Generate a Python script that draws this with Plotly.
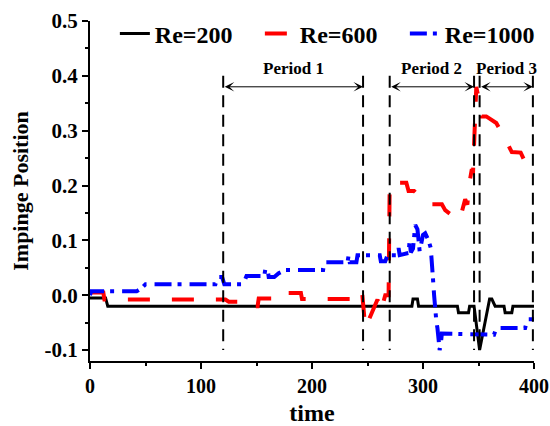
import plotly.graph_objects as go

# ---- data ----
time_re200 = [0, 14, 16, 290, 291, 295, 296, 331, 332, 341, 342, 346, 351, 360, 362, 365, 373, 374, 380, 381, 400]
pos_re200 = [-0.005, -0.005, -0.02, -0.02, -0.007, -0.007, -0.02, -0.02, -0.032, -0.032, -0.02, -0.02, -0.1,
             -0.007, -0.007, -0.02, -0.02, -0.032, -0.032, -0.02, -0.02]

time_re600 = [0, 12, 13, 122, 125, 139, 140, 151, 152, 177, 178, 190, 191, 235, 238, 245, 248, 254, 259, 262,
              266, 269, 270, 285, 287, 292, 304, 317, 320, 332, 333, 338, 340, 341, 344, 345, 346, 347, 348, 350,
              353, 357, 366, 373, 376, 380, 388, 391, 396, 400]
pos_re600 = [0.005, 0.005, -0.008, -0.008, -0.012, -0.012, -0.02, -0.02, -0.006, -0.006, 0.004, 0.004, -0.007,
             -0.007, 0.008, 0.008, -0.06, -0.03, -0.008, -0.03, 0.0, 0.0, 0.205, 0.205, 0.19, 0.19, 0.166, 0.166,
             0.155, 0.137, 0.137, 0.175, 0.165, 0.195, 0.23, 0.22, 0.27, 0.31, 0.38, 0.36, 0.326, 0.326, 0.314,
             0.289, 0.278, 0.261, 0.26, 0.247, 0.232, 0.232]

time_re1000 = [0, 1, 42, 46, 50, 113, 115, 119, 121, 138, 141, 157, 158, 160, 161, 166, 170, 176, 210, 211,
               232, 233, 234, 240, 241, 261, 262, 266, 268, 277, 278, 279, 287, 288, 289, 291, 293, 295, 297, 300,
               302, 305, 307, 308, 309, 310, 311, 312, 313, 315, 316, 317, 364, 366, 392, 394, 400]
pos_re1000 = [0.0, 0.007, 0.007, 0.012, 0.02, 0.02, 0.033, 0.033, 0.02, 0.02, 0.035, 0.035, 0.048, 0.048, 0.033,
              0.033, 0.04, 0.046, 0.046, 0.06, 0.06, 0.073, 0.06, 0.06, 0.073, 0.073, 0.062, 0.062, 0.073, 0.073,
              0.086, 0.073, 0.077, 0.1, 0.078, 0.085, 0.128, 0.12, 0.08, 0.11, 0.113, 0.1, 0.086, 0.064, 0.03, 0.0,
              -0.03, -0.047, -0.06, -0.1, -0.09, -0.07, -0.072, -0.06, -0.06, -0.044, -0.044]

series_names = ["Re=200", "Re=600", "Re=1000"]

period_labels = ["Period 1", "Period 2", "Period 3"]
period_starts = [120, 270, 351]
period_ends = [246, 346, 399]

x_ticks = [0, 100, 200, 300, 400]
y_ticks = [-0.1, 0.0, 0.1, 0.2, 0.3, 0.4, 0.5]
y_tick_labels = ["-0.1", "0.0", "0.1", "0.2", "0.3", "0.4", "0.5"]

FONT = "Liberation Serif"

fig = go.Figure()
fig.add_trace(go.Scatter(x=time_re200, y=pos_re200, mode="lines", name=series_names[0],
                         line=dict(color="black", width=3)))
fig.add_trace(go.Scatter(x=time_re600, y=pos_re600, mode="lines", name=series_names[1],
                         line=dict(color="#ff0000", width=4, dash="22px,22px")))
fig.add_trace(go.Scatter(x=time_re1000, y=pos_re1000, mode="lines", name=series_names[2],
                         line=dict(color="#0000ff", width=4, dash="17px,6px,4px,8px")))

# vertical dashed period boundaries
for xb in period_starts + period_ends:
    fig.add_shape(type="line", x0=xb, x1=xb, y0=0.4, y1=-0.1, xref="x", yref="y",
                  line=dict(color="black", width=2, dash="12px,7.5px"), layer="above")

# double-headed arrows + labels
for lab, s, e in zip(period_labels, period_starts, period_ends):
    fig.add_annotation(x=e, y=0.38, ax=s, ay=0.38, xref="x", yref="y", axref="x", ayref="y",
                       text="", showarrow=True, arrowhead=3, startarrowhead=3, arrowside="end+start",
                       arrowsize=1.6, startarrowsize=1.6, arrowwidth=1, arrowcolor="black",
                       standoff=0, startstandoff=0)
    fig.add_annotation(x=(s + e) / 2, y=0.413, xref="x", yref="y", text=lab, showarrow=False,
                       font=dict(family=FONT, size=17, color="black", weight="bold"))

fig.update_layout(
    width=550, height=426,
    margin=dict(l=90, r=16, t=21, b=65, autoexpand=False),
    plot_bgcolor="white", paper_bgcolor="white",
    font=dict(family=FONT, size=20, color="black", weight="bold"),
    showlegend=True,
    legend=dict(orientation="h", x=0.056, y=0.962, xanchor="left", yanchor="middle",
                font=dict(family=FONT, size=24, color="black", weight="bold"),
                bgcolor="rgba(0,0,0,0)", itemwidth=30, entrywidth=100, tracegroupgap=0),
)
fig.update_xaxes(range=[0, 400], tickvals=x_ticks, showgrid=False, zeroline=False, automargin=False,
                 showline=True, linecolor="black", linewidth=2,
                 ticks="outside", ticklen=6, tickwidth=2, tickcolor="black",
                 minor=dict(ticks="outside", ticklen=3, tickwidth=2, tickcolor="black", dtick=50),
                 tickfont=dict(family=FONT, size=20, weight="bold"),
                 title=dict(text="time", font=dict(family=FONT, size=24, weight="bold"), standoff=10))
fig.update_yaxes(range=[-0.12, 0.5], tickvals=y_ticks, ticktext=y_tick_labels, showgrid=False, zeroline=False,
                 automargin=False,
                 showline=True, linecolor="black", linewidth=2,
                 ticks="outside", ticklen=6, tickwidth=2, tickcolor="black",
                 minor=dict(ticks="outside", ticklen=3, tickwidth=2, tickcolor="black", dtick=0.05),
                 tickfont=dict(family=FONT, size=21, weight="bold"),
                 title=dict(text="Impinge Position", font=dict(family=FONT, size=22, weight="bold"), standoff=10))

fig.write_html("out.html", config={"displayModeBar": False},
               post_script="document.body.style.margin='0';document.body.style.padding='0';")
